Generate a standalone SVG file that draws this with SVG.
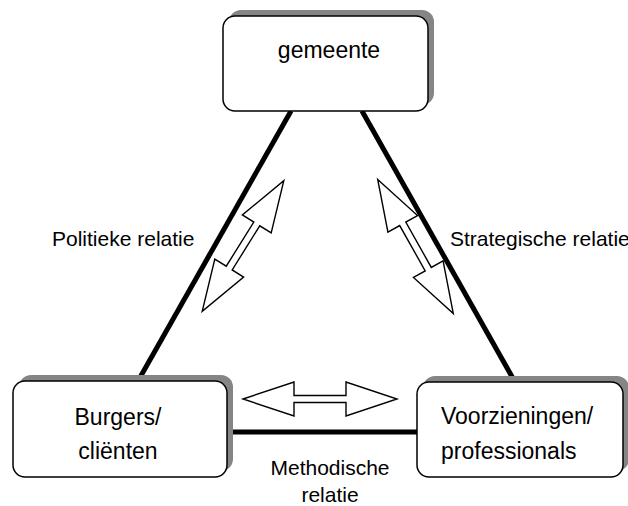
<svg xmlns="http://www.w3.org/2000/svg" width="628" height="506" viewBox="0 0 628 506">
  <style>
    .shadow { fill: #858585; }
    .box { fill: #ffffff; stroke: #000000; stroke-width: 1.5; }
    .node-text { font-family: "Liberation Sans", Arial, sans-serif; font-size: 23px; fill: #000000; }
    .label { font-family: "Liberation Sans", Arial, sans-serif; font-size: 21px; fill: #000000; }
    .edge { stroke: #000000; stroke-width: 5; fill: none; }
    .relation { fill: #ffffff; stroke: #000000; stroke-width: 1.4; stroke-linejoin: miter; }
  </style>
  <defs>
    <!-- hollow double-headed block arrow, centred on the origin -->
    <path id="double-arrow" d="M -77,0 L -26,-17 L -26,-3.5 L 26,-3.5 L 26,-17 L 77,0 L 26,17 L 26,3.5 L -26,3.5 L -26,17 Z"/>
  </defs>

  <rect width="628" height="506" fill="#ffffff"/>

  <!-- triangle sides -->
  <g id="connectors">
    <line class="edge" x1="291" y1="111" x2="138" y2="381"/>
    <line class="edge" x1="362" y1="111" x2="515" y2="382"/>
    <line class="edge" x1="227" y1="432" x2="418" y2="432"/>
  </g>

  <!-- relation arrows -->
  <g id="relations">
    <use href="#double-arrow" class="relation" transform="translate(243,246) rotate(-58)"/>
    <use href="#double-arrow" class="relation" transform="translate(415.5,246.5) rotate(60.6)"/>
    <use href="#double-arrow" class="relation" transform="translate(320,399)"/>
  </g>

  <g id="node-gemeente">
    <rect class="shadow" x="229" y="10" width="205" height="95" rx="12"/>
    <rect class="box" x="223" y="16" width="205" height="95" rx="12"/>
    <text class="node-text" x="329" y="58" text-anchor="middle">gemeente</text>
  </g>

  <g id="node-burgers">
    <rect class="shadow" x="19" y="375" width="214" height="96" rx="12"/>
    <rect class="box" x="13" y="381" width="214" height="96" rx="12"/>
    <text class="node-text" x="118" y="425" text-anchor="middle">Burgers/</text>
    <text class="node-text" x="118" y="459" text-anchor="middle">cliënten</text>
  </g>

  <g id="node-voorzieningen">
    <rect class="shadow" x="423" y="376" width="206" height="95" rx="12"/>
    <rect class="box" x="417" y="382" width="206" height="95" rx="12"/>
    <text class="node-text" x="441" y="424">Voorzieningen/</text>
    <text class="node-text" x="441" y="459">professionals</text>
  </g>

  <g id="labels">
    <text class="label" x="52" y="246">Politieke relatie</text>
    <text class="label" x="450" y="246">Strategische relatie</text>
    <text class="label" x="330" y="475" text-anchor="middle">Methodische</text>
    <text class="label" x="330" y="502" text-anchor="middle">relatie</text>
  </g>
</svg>
